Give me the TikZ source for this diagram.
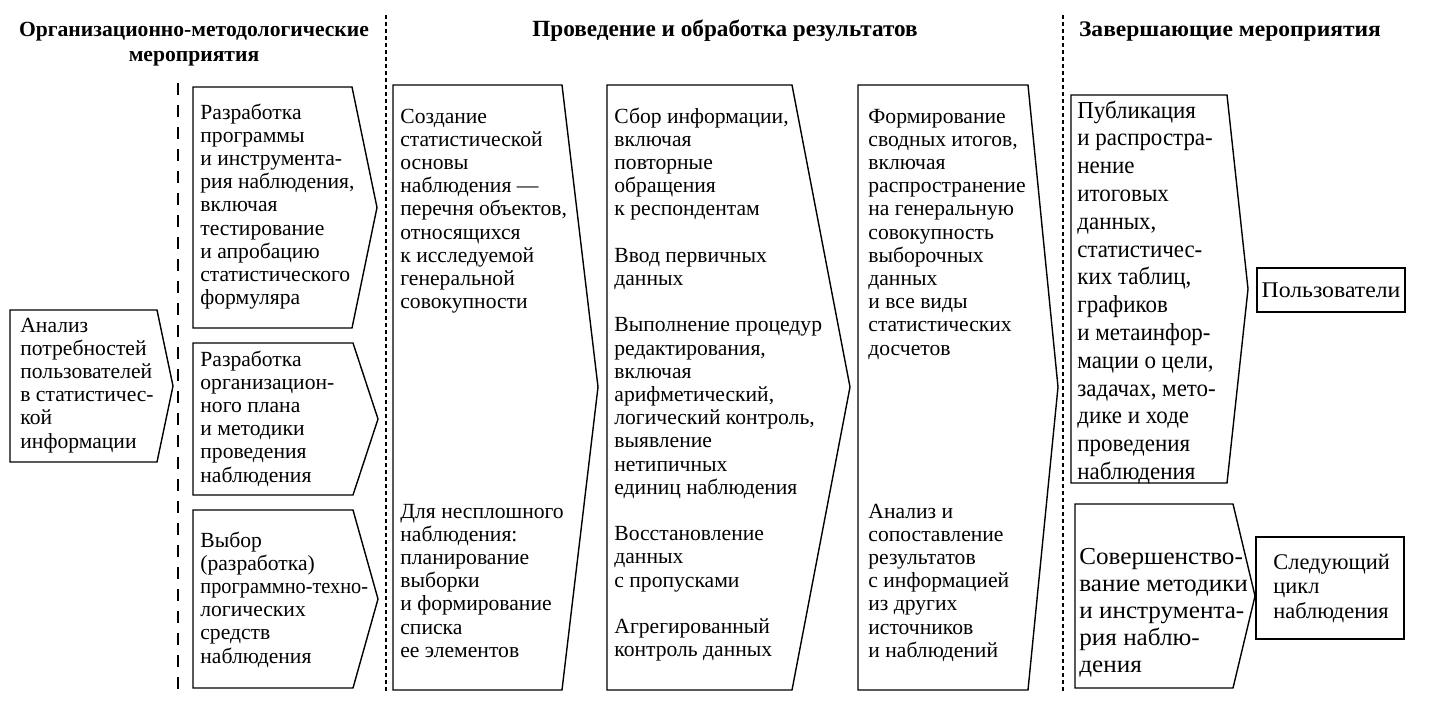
\documentclass[tikz,border=0pt]{standalone}
\usepackage{fontspec}
\setmainfont{Liberation Serif}
\newfontfamily\widefont[FakeStretch=1.06]{Liberation Serif}
\newfontfamily\pubfont[FakeStretch=0.94]{Liberation Serif}
\newfontfamily\sovfont[FakeStretch=1.03]{Liberation Serif}
\newcommand\lns[1]{\begin{tabular}[t]{@{}l@{}}#1\end{tabular}}
\tikzset{
  box/.style={draw, line width=0.7pt, line join=miter},
  txt/.style={anchor=base west, inner sep=0pt, font=\fontsize{10.8}{11.6}\selectfont},
  txtpub/.style={anchor=base west, inner sep=0pt, font=\pubfont\fontsize{12.2}{13.9}\selectfont},
  txtsov/.style={anchor=base west, inner sep=0pt, font=\sovfont\fontsize{12.2}{13.5}\selectfont},
  txtmid/.style={anchor=base west, inner sep=0pt, font=\fontsize{11.2}{12.25}\selectfont},
  head/.style={anchor=base, inner sep=0pt, font=\bfseries\fontsize{10.8}{12.5}\selectfont},
  longdash/.style={line width=0.7pt, dash pattern=on 6pt off 5pt},
  shortdash/.style={line width=0.6pt, dash pattern=on 2pt off 1.5pt}
}
\begin{document}
\begin{tikzpicture}[x=0.5pt,y=-0.5pt]
\useasboundingbox (0,0) rectangle (1444,708);

% headings
\node[head] (h1a) at (194,36) {Организационно-методологические};
\node[head] (h1b) at (194,61) {мероприятия};
\node[head, font=\bfseries\fontsize{11.6}{12.5}\selectfont] (h2) at (725,36) {Проведение и обработка результатов};
\node[head, font=\widefont\bfseries\fontsize{11.1}{12.5}\selectfont] (h3) at (1230,36) {Завершающие мероприятия};

% separators
\draw[longdash] (178,83) -- (178,690);
\draw[shortdash] (386,15) -- (386,692);
\draw[shortdash] (1063,15) -- (1063,692);

% box outlines
\draw[box] (10,310) -- (157,310) -- (173,386) -- (157,462) -- (10,462) -- cycle;
\draw[box] (193,87) -- (352,87) -- (377,207.5) -- (352,328) -- (193,328) -- cycle;
\draw[box] (193,343) -- (353,343) -- (378,419) -- (353,495) -- (193,495) -- cycle;
\draw[box] (193,510) -- (353,510) -- (378,599) -- (353,688) -- (193,688) -- cycle;
\draw[box] (393,85) -- (562,85) -- (598,387) -- (562,690) -- (393,690) -- cycle;
\draw[box] (607,85) -- (792,85) -- (850,387) -- (792,690) -- (607,690) -- cycle;
\draw[box] (858,85) -- (1028,85) -- (1058,387) -- (1028,690) -- (858,690) -- cycle;
\draw[box] (1071,95) -- (1227,95) -- (1248,289) -- (1227,483) -- (1071,483) -- cycle;
\draw[box] (1075,504) -- (1233,504) -- (1255,596) -- (1233,688) -- (1075,688) -- cycle;
\draw[box] (1257,268) rectangle (1405,312);
\draw[box] (1256,537) rectangle (1404,639);

% texts
\node[txt] (a) at (20,332) {\lns{Анализ\\потребностей\\пользователей\\в статистичес-\\кой\\информации}};
\node[txt] (b1) at (200,119) {\lns{Разработка\\программы\\и инструмента-\\рия наблюдения,\\включая\\тестирование\\и апробацию\\статистического\\формуляра}};
\node[txt] (b2) at (200,366) {\lns{Разработка\\организацион-\\ного плана\\и методики\\проведения\\наблюдения}};
\node[txt] (b3) at (200,547) {\lns{Выбор\\(разработка)\\\scalebox{0.94}[1]{программно-техно-}\\логических\\средств\\наблюдения}};
\node[txt] (c1) at (400,123) {\lns{Создание\\статистической\\основы\\наблюдения —\\перечня объектов,\\относящихся\\к исследуемой\\генеральной\\совокупности}};
\node[txt] (c2) at (400,518) {\lns{Для несплошного\\наблюдения:\\планирование\\выборки\\и формирование\\списка\\ее элементов}};
\node[txt] (d) at (614,123) {\lns{Сбор информации,\\включая\\повторные\\обращения\\к респондентам\\ \\Ввод первичных\\данных\\ \\Выполнение процедур\\редактирования,\\включая\\арифметический,\\логический контроль,\\выявление\\нетипичных\\единиц наблюдения\\ \\Восстановление\\данных\\с пропусками\\ \\Агрегированный\\контроль данных}};
\node[txt] (e1) at (868,123) {\lns{Формирование\\сводных итогов,\\включая\\распространение\\на генеральную\\совокупность\\выборочных\\данных\\и все виды\\статистических\\досчетов}};
\node[txt] (e2) at (868,518) {\lns{Анализ и\\сопоставление\\результатов\\с информацией\\из других\\источников\\и наблюдений}};
\node[txtpub] (f) at (1077,118) {\lns{Публикация\\и распростра-\\нение\\итоговых\\данных,\\статистичес-\\ких таблиц,\\графиков\\и метаинфор-\\мации о цели,\\задачах, мето-\\дике и ходе\\проведения\\наблюдения}};
\node[txtsov] (g) at (1079,564) {\lns{Совершенство-\\вание методики\\и инструмента-\\рия наблю-\\дения}};
\node[anchor=center, inner sep=0pt, font=\widefont\fontsize{11.2}{12.25}\selectfont] (h) at (1331,290) {Пользователи};
\node[txtmid] (i) at (1273,569) {\lns{Следующий\\цикл\\наблюдения}};
\end{tikzpicture}
\end{document}
